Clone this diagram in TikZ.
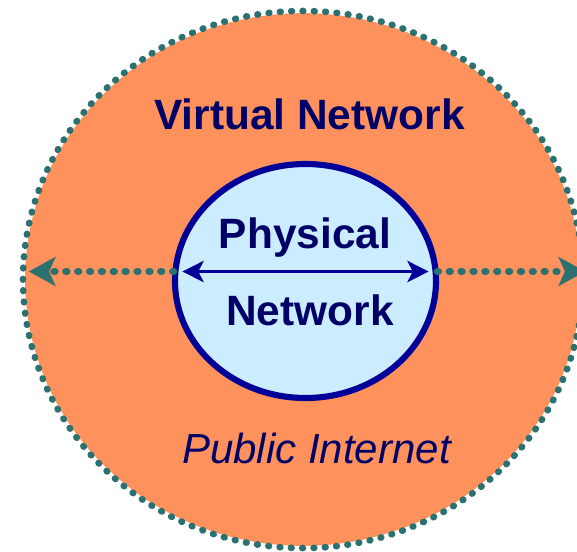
\documentclass[tikz,border=0pt]{standalone}
\usepackage{fontspec}
\setmainfont{Liberation Sans}
\usetikzlibrary{shapes.geometric,arrows.meta}
\definecolor{orangefill}{HTML}{FF925C}
\definecolor{tealdot}{HTML}{2A7170}
\definecolor{lightblue}{HTML}{CCECFF}
\definecolor{navyline}{HTML}{000099}
\definecolor{navytext}{HTML}{000066}
\begin{document}
\begin{tikzpicture}[x=0.75pt,y=-0.75pt,
  outerring/.style={ellipse,fill=orangefill,inner sep=0pt,outer sep=0pt,
    minimum width=417pt,minimum height=399.5pt},
  outerdots/.style={draw=tealdot,line width=5pt,dash pattern=on 0.5pt off 8pt,line cap=round},
  innerring/.style={ellipse,fill=lightblue,draw=navyline,line width=4.6pt,
    inner sep=0pt,outer sep=0pt,minimum width=195.75pt,minimum height=175.5pt},
  dotarrow/.style={draw=tealdot,line width=5.4pt,dash pattern=on 0.8pt off 8.1pt,
    line cap=round,-{Stealth[length=20pt,width=22pt,inset=5pt,line width=0.1pt,fill=tealdot]}},
  thinarrow/.style={draw=navyline,line width=1.6pt,
    {Stealth[length=16pt,width=16pt,inset=4pt]}-{Stealth[length=16pt,width=16pt,inset=4pt]}},
  boldlabel/.style={text=navytext,font=\bfseries\fontsize{31.8}{36}\selectfont,anchor=base,inner sep=0pt},
  itlabel/.style={text=navytext,font=\itshape\fontsize{31.5}{36}\selectfont,anchor=base,inner sep=0pt}]
\useasboundingbox (0,0) rectangle (577,551);
\node[outerring] (outer) at (303,279.5) {};
\draw[outerdots] (outer.center) ellipse [x radius=210pt, y radius=201.4pt];
\node[innerring] (inner) at (305.5,281) {};
\coordinate (axis) at (305,271.5);
\draw[dotarrow,shorten <=1pt,shorten >=3pt] (inner.west |- axis) -- (outer.west |- axis);
\draw[dotarrow,shorten <=1pt,shorten >=-3pt] (inner.east |- axis) -- (outer.east |- axis);
\draw[thinarrow,shorten <=5.5pt,shorten >=5.5pt] (inner.west |- axis) -- (inner.east |- axis);
\node[boldlabel] (virt) at (309.5,129) {Virtual Network};
\node[boldlabel] (phys) at (305,248) {Physical};
\node[boldlabel] (netw) at (310,325) {Network};
\node[itlabel] (pub) at (316.5,463) {Public Internet};
\end{tikzpicture}
\end{document}
